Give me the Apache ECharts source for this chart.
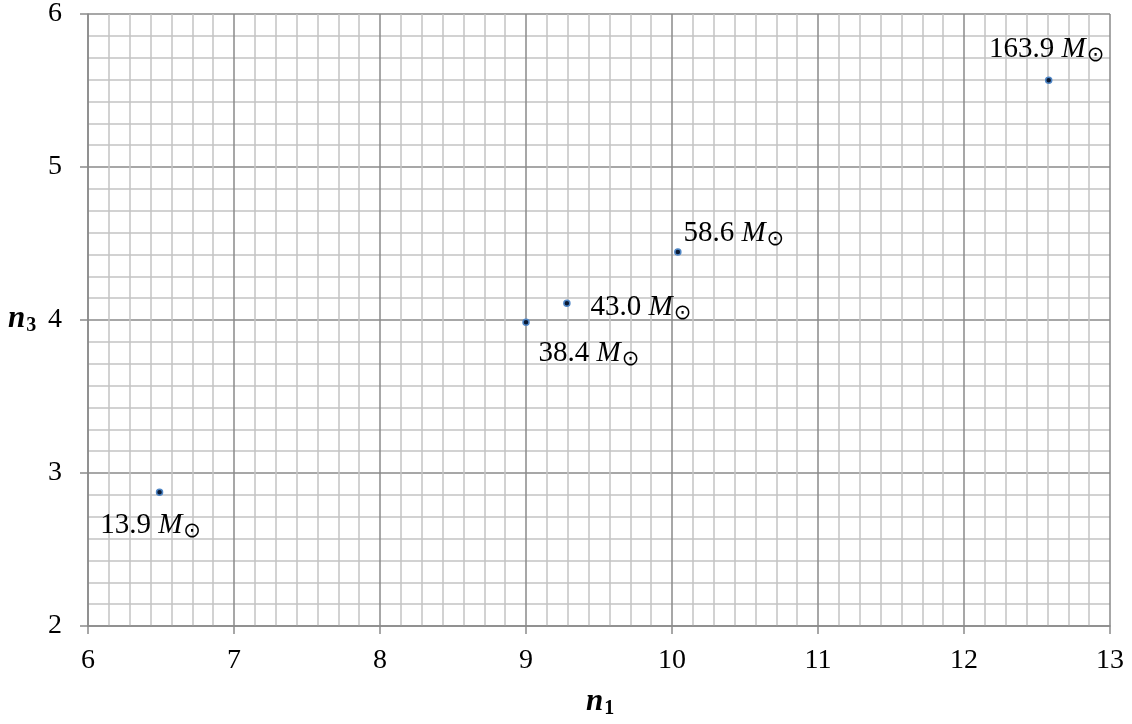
<!DOCTYPE html>
<html>
<head>
<meta charset="utf-8">
<script src="https://cdn.jsdelivr.net/npm/echarts@6/dist/echarts.min.js"></script>
<style>
html,body{margin:0;padding:0;background:#fff;}
#chart{width:1132px;height:724px;}
</style>
</head>
<body>
<div id="chart"></div>
<script>
// Data
const n1Values = [6.49, 9.0, 9.28, 10.04, 12.58];
const n3Values = [2.875, 3.985, 4.11, 4.445, 5.567];
const massLabels = ['13.9', '38.4', '43.0', '58.6', '163.9'];
const xTicks = [6, 7, 8, 9, 10, 11, 12, 13];
const yTicks = [2, 3, 4, 5, 6];

// label offsets (style)
const labelOffsets = [[-9, 33], [63, 31], [74, 4], [56, -19], [-2, -31]];

const serif = '"Liberation Serif", "DejaVu Serif", serif';
const chart = echarts.init(document.getElementById('chart'), null, {renderer: 'canvas'});

const data = n1Values.map((x, i) => ({
  value: [x, n3Values[i]],
  label: {
    show: true,
    position: 'inside',
    offset: labelOffsets[i],
    formatter: '{n|' + massLabels[i] + ' }{m|M}{s|⊙}'
  }
}));

const majorColor = '#8a8a8a';
const minorColor = '#c3c3c3';

chart.setOption({
  animation: false,
  backgroundColor: '#ffffff',
  grid: {left: 88, right: 22, top: 13, bottom: 98, containLabel: false},
  xAxis: {
    type: 'value', min: xTicks[0], max: xTicks[xTicks.length - 1], interval: 1,
    axisLine: {show: true, onZero: false, lineStyle: {color: majorColor, width: 1.5}},
    axisTick: {show: true, length: 8, lineStyle: {color: majorColor, width: 1.5}},
    axisLabel: {margin: 21, fontFamily: serif, fontSize: 28, color: '#000'},
    splitLine: {show: true, lineStyle: {color: majorColor, width: 1.5}},
    minorTick: {show: false, splitNumber: 7},
    minorSplitLine: {show: true, lineStyle: {color: minorColor, width: 1.5}}
  },
  yAxis: {
    type: 'value', min: yTicks[0], max: yTicks[yTicks.length - 1], interval: 1,
    axisLine: {show: true, onZero: false, lineStyle: {color: majorColor, width: 1.5}},
    axisTick: {show: true, length: 8, lineStyle: {color: majorColor, width: 1.5}},
    axisLabel: {margin: 26, fontFamily: serif, fontSize: 28, color: '#000'},
    splitLine: {show: true, lineStyle: {color: majorColor, width: 1.5}},
    minorTick: {show: false, splitNumber: 7},
    minorSplitLine: {show: true, lineStyle: {color: minorColor, width: 1.5}}
  },
  graphic: [
    {type: 'text', left: 586, top: 686, style: {
      text: '{n|n}{s|1}', rich: {
        n: {fontFamily: serif, fontSize: 31, fontWeight: 'bold', fontStyle: 'italic', fill: '#000'},
        s: {fontFamily: serif, fontSize: 20, fontWeight: 'bold', fill: '#000', padding: [14, 0, 0, 1]}
      }
    }},
    {type: 'text', left: 8, top: 303, style: {
      text: '{n|n}{s|3}', rich: {
        n: {fontFamily: serif, fontSize: 31, fontWeight: 'bold', fontStyle: 'italic', fill: '#000'},
        s: {fontFamily: serif, fontSize: 20, fontWeight: 'bold', fill: '#000', padding: [14, 0, 0, 1]}
      }
    }}
  ],
  series: [{
    type: 'scatter',
    symbol: 'circle',
    symbolSize: 6,
    itemStyle: {color: '#0b1a33', borderColor: '#4f86c6', borderWidth: 1.5, opacity: 1},
    label: {
      show: true,
      color: '#000',
      rich: {
        n: {fontFamily: serif, fontSize: 29, color: '#000'},
        m: {fontFamily: serif, fontSize: 29, fontStyle: 'italic', color: '#000'},
        s: {fontFamily: '"DejaVu Sans", serif', fontSize: 21, color: '#000', padding: [13, 0, 0, 1]}
      }
    },
    data: data
  }]
});
</script>
</body>
</html>
